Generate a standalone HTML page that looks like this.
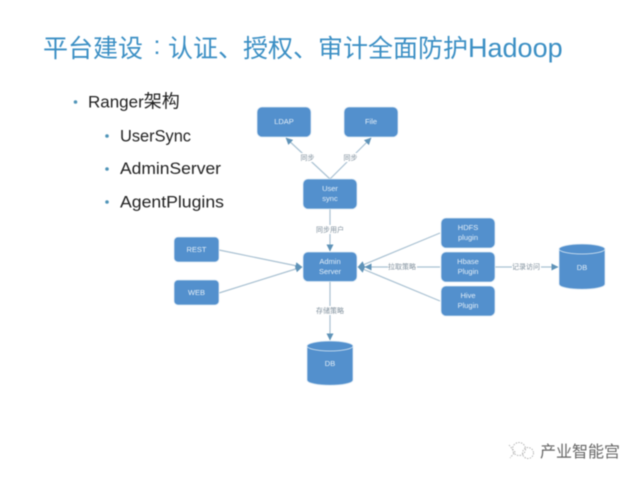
<!DOCTYPE html>
<html lang="zh">
<head>
<meta charset="utf-8">
<title>Ranger架构</title>
<style>
html,body{margin:0;padding:0;background:#fff;}
body{width:640px;height:480px;overflow:hidden;position:relative;font-family:"Liberation Sans","Noto Sans CJK SC",sans-serif;}
svg{position:absolute;left:0;top:0;filter:blur(0.5px);}
</style>
</head>
<body>
<svg width="640" height="480" viewBox="0 0 640 480" xmlns="http://www.w3.org/2000/svg" font-family="'Liberation Sans','Noto Sans CJK SC',sans-serif">
  <defs>
    <marker id="a" markerWidth="8" markerHeight="8" refX="6.500" refY="3.500" orient="auto" markerUnits="userSpaceOnUse">
      <path d="M0,0 L7,3.500 L0,7 Z" fill="#5f93b8"/>
    </marker>
  </defs>

  <!-- Title -->
  <text x="43" y="57" font-size="25" fill="#3b8fc4">平台建设</text>
  <text x="153.500" y="54" font-size="25" fill="#3b8fc4">:</text>
  <text x="168" y="57" font-size="25" fill="#3b8fc4">认证、授权、审计全面防护<tspan font-size="27">Hadoop</tspan></text>

  <!-- Bullets -->
  <g fill="#4f94b8">
    <circle cx="75.500" cy="102" r="1.800"/>
    <circle cx="107" cy="136" r="1.800"/>
    <circle cx="107" cy="169" r="1.800"/>
    <circle cx="107" cy="202" r="1.800"/>
  </g>
  <g fill="#222" font-size="17">
    <text x="88" y="107.500">Ranger<tspan font-size="18">架构</tspan></text>
    <text x="120" y="141.500" textLength="71" lengthAdjust="spacingAndGlyphs">UserSync</text>
    <text x="120" y="174" textLength="101" lengthAdjust="spacingAndGlyphs">AdminServer</text>
    <text x="120" y="207.500" textLength="104" lengthAdjust="spacingAndGlyphs">AgentPlugins</text>
  </g>

  <!-- Connectors -->
  <g stroke="#a9c1d2" stroke-width="1.200" fill="none">
    <line x1="330" y1="179" x2="286" y2="138" marker-end="url(#a)"/>
    <line x1="330" y1="179" x2="371" y2="138" marker-end="url(#a)"/>
    <line x1="330" y1="209" x2="330" y2="251" marker-end="url(#a)"/>
    <line x1="219" y1="250" x2="302" y2="267" marker-end="url(#a)"/>
    <line x1="219" y1="293" x2="302" y2="267" marker-end="url(#a)"/>
    <line x1="330" y1="281" x2="330" y2="340" marker-end="url(#a)"/>
    <line x1="440" y1="233" x2="358" y2="267" marker-end="url(#a)"/>
    <line x1="440" y1="267" x2="365" y2="267" marker-end="url(#a)"/>
    <line x1="440" y1="301" x2="358" y2="267" marker-end="url(#a)"/>
    <line x1="495" y1="267" x2="558" y2="267" marker-end="url(#a)"/>
  </g>

  <!-- Connector labels -->
  <g font-size="7" fill="#7f8f9c" text-anchor="middle">
    <rect x="299" y="153" width="17" height="9" fill="#fff"/>
    <rect x="342" y="153" width="17" height="9" fill="#fff"/>
    <rect x="316" y="225" width="29" height="9" fill="#fff"/>
    <rect x="316" y="306" width="29" height="9" fill="#fff"/>
    <rect x="388" y="262" width="29" height="9" fill="#fff"/>
    <rect x="512" y="262" width="29" height="9" fill="#fff"/>
    <text x="307.500" y="160">同步</text>
    <text x="350.500" y="160">同步</text>
    <text x="330" y="232">同步用户</text>
    <text x="330" y="313">存储策略</text>
    <text x="402" y="269">拉取策略</text>
    <text x="526" y="269">记录访问</text>
  </g>

  <!-- Boxes -->
  <g fill="#5390cd" stroke="#dce9f4" stroke-width="0.800">
    <rect x="257" y="107" width="54" height="30" rx="5"/>
    <rect x="344" y="107" width="54" height="30" rx="5"/>
    <rect x="303" y="179" width="54" height="30" rx="5"/>
    <rect x="303" y="252" width="54" height="29.500" rx="5"/>
    <rect x="174" y="237" width="45" height="25" rx="4"/>
    <rect x="174" y="280" width="45" height="25" rx="4"/>
    <rect x="441" y="218" width="54" height="30" rx="5"/>
    <rect x="441" y="252" width="54" height="30" rx="5"/>
    <rect x="441" y="286" width="54" height="30" rx="5"/>
  </g>

  <!-- Cylinders -->
  <g fill="#5390cd" stroke="#dce9f4" stroke-width="0.800">
    <path d="M307,346 V380 C307,387 353,387 353,380 V346 Z"/>
    <ellipse cx="330" cy="346" rx="23" ry="5"/>
    <path d="M559,249 V284 C559,291 605,291 605,284 V249 Z"/>
    <ellipse cx="582" cy="249" rx="23" ry="5"/>
  </g>

  <!-- Box labels -->
  <g fill="#e3eef8" font-size="7.500" text-anchor="middle">
    <text x="284" y="124">LDAP</text>
    <text x="371" y="124">File</text>
    <text x="330" y="191">User</text>
    <text x="330" y="201">sync</text>
    <text x="330" y="264">Admin</text>
    <text x="330" y="274">Server</text>
    <text x="196.500" y="252">REST</text>
    <text x="196.500" y="295">WEB</text>
    <text x="468" y="230">HDFS</text>
    <text x="468" y="240">plugin</text>
    <text x="468" y="264">Hbase</text>
    <text x="468" y="274">Plugin</text>
    <text x="468" y="298">Hive</text>
    <text x="468" y="308">Plugin</text>
    <text x="330" y="366">DB</text>
    <text x="582" y="270">DB</text>
  </g>

  <!-- Watermark -->
  <g fill="none" stroke="#b0b0b0" stroke-width="0.900" stroke-dasharray="1.500 1.200">
    <circle cx="519" cy="449" r="6.500"/>
    <circle cx="528" cy="453" r="5.500"/>
    <path d="M509,445 L515,452 L510,458"/>
  </g>
  <text x="540" y="457" font-size="16" fill="#666">产业智能宫</text>
</svg>
</body>
</html>
